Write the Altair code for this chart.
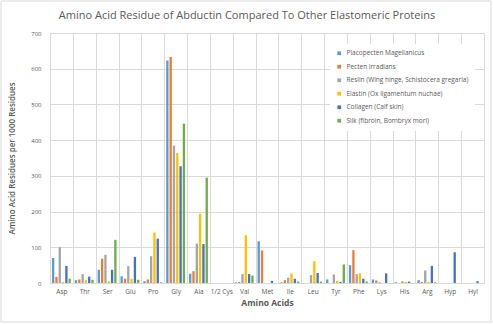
import altair as alt
import pandas as pd

categories = ["Asp", "Thr", "Ser", "Glu", "Pro", "Gly", "Ala", "1/2 Cys", "Val", "Met",
              "Ile", "Leu", "Tyr", "Phe", "Lys", "His", "Arg", "Hyp", "Hyl"]

series = ["Placopecten Magellanicus", "Pecten irradians",
          "Reslin (Wing hinge, Schistocera gregaria)", "Elastin (Ox ligamentum nuchae)",
          "Collagen (Calf skin)", "Silk (fibroin, Bombryx mori)"]

placopecten = [70, 8, 37, 19, 5, 623, 26, 0, 2, 117, 2, 0, 10, 50, 10, 2, 8, 0, 0]
pecten      = [17, 10, 68, 12, 10, 633, 33, 0, 3, 91, 8, 0, 0, 92, 7, 0, 3, 0, 0]
resilin     = [100, 25, 79, 47, 75, 385, 110, 0, 25, 0, 15, 22, 24, 25, 2, 5, 35, 0, 0]
elastin     = [3, 8, 5, 12, 141, 364, 194, 0, 134, 0, 27, 61, 6, 27, 0, 3, 3, 0, 0]
collagen    = [48, 18, 37, 73, 124, 327, 109, 0, 25, 6, 12, 28, 3, 12, 27, 4, 48, 86, 5]
silk        = [12, 9, 121, 9, 2, 446, 295, 0, 21, 0, 4, 4, 52, 4, 0, 0, 2, 0, 0]

colors = ["#5B9BD5", "#ED7D31", "#A5A5A5", "#FFC000", "#4472C4", "#70AD47"]

values = [placopecten, pecten, resilin, elastin, collagen, silk]
rows = []
for s, vals in zip(series, values):
    for c, v in zip(categories, vals):
        rows.append({"acid": c, "series": s, "value": v})
df = pd.DataFrame(rows)

FONT = "Open Sans"
TXT = "#595959"

bars = alt.Chart(df).mark_bar().encode(
    x=alt.X("acid:N", sort=categories,
            scale=alt.Scale(paddingInner=0, paddingOuter=0),
            axis=alt.Axis(title="Amino Acids", labelAngle=0, grid=True, tickBand="extent",
                          ticks=False, domainColor="#D9D9D9", gridColor="#D9D9D9",
                          labelFontSize=6.5, labelColor=TXT, labelPadding=5,
                          titleFontSize=8.5, titleFontWeight="bold", titleColor=TXT,
                          titlePadding=4, labelFont=FONT, titleFont=FONT)),
    xOffset=alt.XOffset("series:N", sort=series,
                        scale=alt.Scale(paddingInner=0.3, paddingOuter=0.6)),
    y=alt.Y("value:Q", scale=alt.Scale(domain=[0, 700]),
            axis=alt.Axis(title="Amino Acid Residues per 1000 Residues",
                          values=[0, 100, 200, 300, 400, 500, 600, 700],
                          domain=False, ticks=False, gridColor="#D9D9D9",
                          labelFontSize=6, labelColor=TXT, labelPadding=9,
                          titleFontSize=8, titleFontWeight=600, titleColor=TXT,
                          titlePadding=14, labelFont=FONT, titleFont=FONT)),
    color=alt.Color("series:N", sort=series,
                    scale=alt.Scale(domain=series, range=colors),
                    legend=alt.Legend(title=None, orient="none", legendX=280, legendY=11,
                                      fillColor="white", padding=6, symbolType="square",
                                      symbolSize=14, labelFontSize=6.5, labelColor=TXT,
                                      labelFont=FONT, rowPadding=6.5, symbolStrokeWidth=0)),
)

border = alt.Chart(pd.DataFrame({"a": [0]})).mark_rect(
    fill=None, stroke="#D9D9D9", strokeWidth=1, clip=False
).encode(x=alt.value(-49), x2=alt.value(441), y=alt.value(-32), y2=alt.value(289))

chart = alt.layer(bars, border).properties(
    width=434, height=250,
    title=alt.TitleParams("Amino Acid Residue of Abductin Compared To Other Elastomeric Proteins",
                          fontSize=11, font=FONT, color=TXT, fontWeight="normal",
                          anchor="middle", dx=-20, offset=-20),
    padding={"left": 50, "top": 33, "right": 9, "bottom": 41},
    autosize=alt.AutoSizeParams(type="none"),
).configure_view(stroke="#D9D9D9").configure(background="white")

chart.save("out.html", embed_options={"renderer": "svg", "actions": False})
